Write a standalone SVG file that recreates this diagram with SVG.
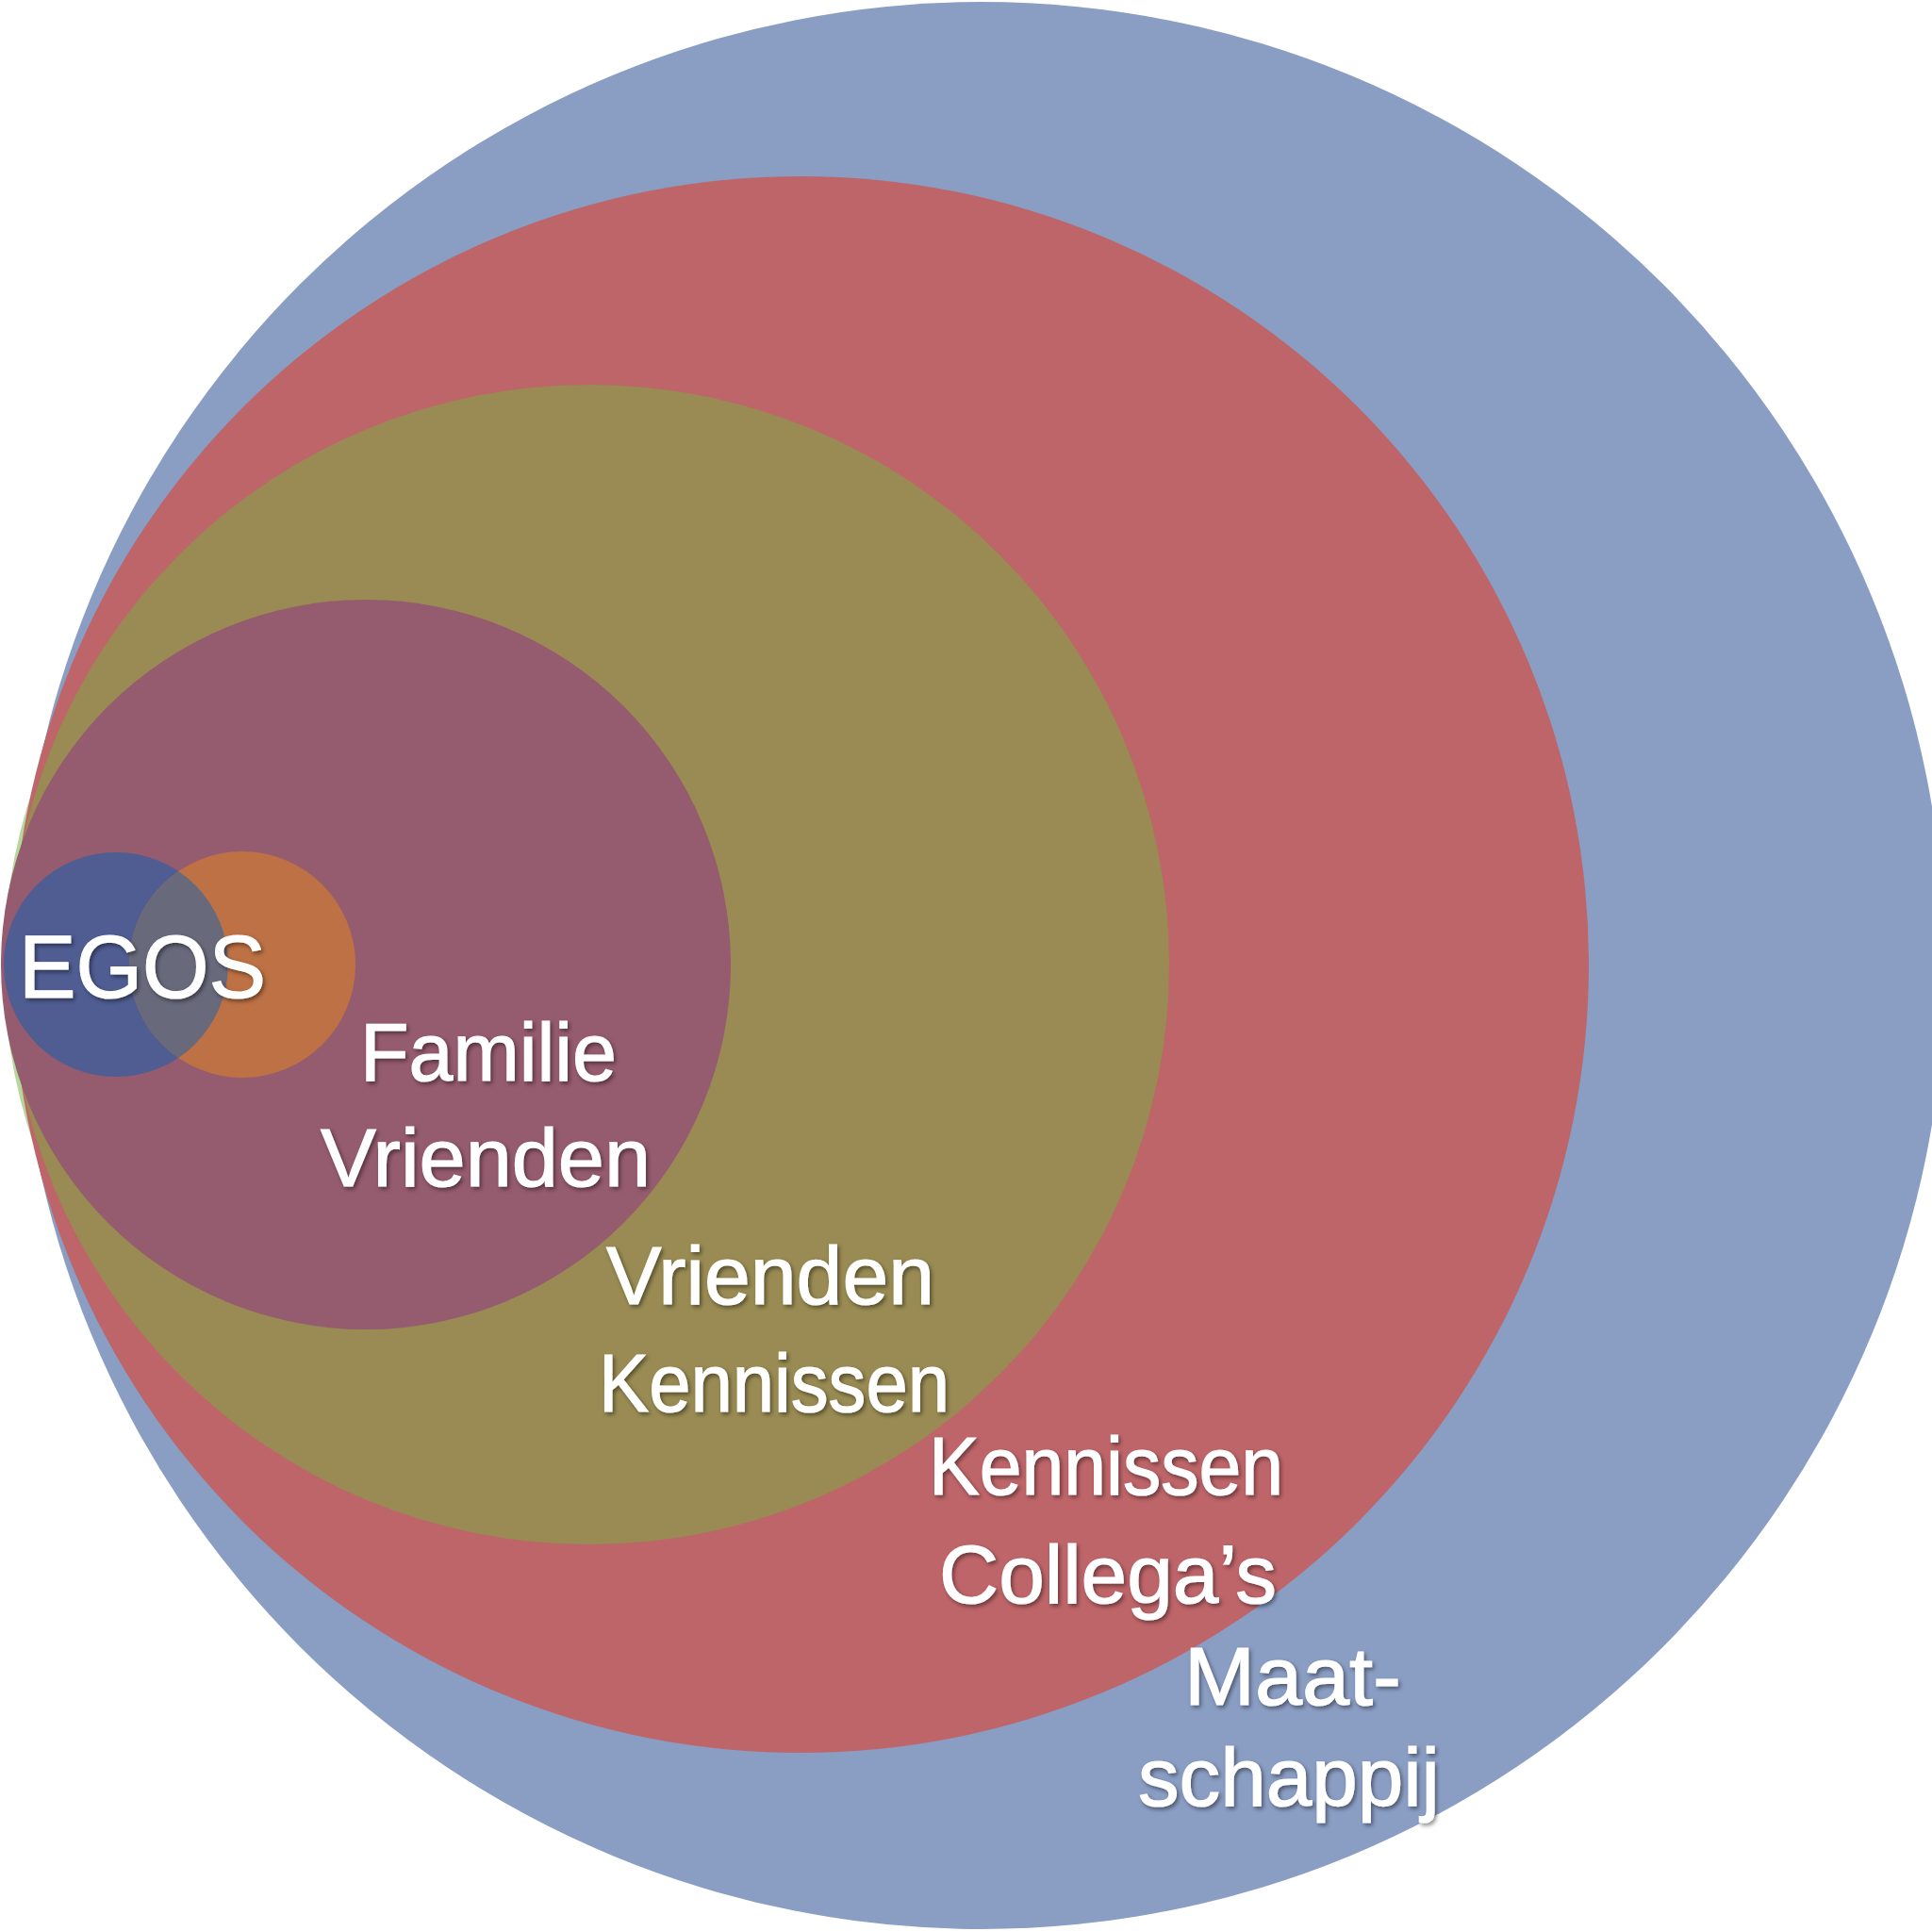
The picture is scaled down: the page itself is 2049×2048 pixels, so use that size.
<svg xmlns="http://www.w3.org/2000/svg" width="2049" height="2048" viewBox="0 0 2049 2048">
  <style>
    .lbl { font-family: "Liberation Sans", Arial, sans-serif; font-size: 88px; fill: #ffffff; stroke: #ffffff; stroke-width: 1.2px; filter: url(#shadow); }
  </style>
  <defs>
    <filter id="shadow" x="-10%" y="-30%" width="130%" height="160%">
      <feDropShadow dx="2" dy="2.5" stdDeviation="2" flood-color="#000000" flood-opacity="0.45"/>
    </filter>
    <clipPath id="egoBlueClip">
      <circle cx="123" cy="1023" r="119"/>
    </clipPath>
  </defs>
  <rect width="2049" height="2048" fill="#ffffff"/>

  <g id="maatschappij">
    <circle cx="1041" cy="1024" r="1022" fill="#8A9DC3"/>
  </g>
  <g id="green-ring">
    <circle cx="590" cy="1024" r="586" fill="#B6D89C"/>
  </g>
  <g id="kennissen-collegas">
    <circle cx="849" cy="1023" r="836" fill="#BE6569"/>
  </g>
  <g id="vrienden-kennissen">
    <circle cx="625" cy="1023" r="615" fill="#998B53"/>
  </g>
  <g id="familie-vrienden">
    <circle cx="388" cy="1023" r="387" fill="#955B6E"/>
  </g>
  <g id="egos">
    <circle cx="123" cy="1023" r="119" fill="#4F5D92"/>
    <circle cx="257" cy="1023" r="120" fill="#BD7144"/>
    <circle cx="257" cy="1023" r="120" fill="#686A7C" clip-path="url(#egoBlueClip)"/>
  </g>

  <g id="connectors"></g>

  <g id="labels">
    <text class="lbl" x="20" y="1058" style="font-size:94px" textLength="262" lengthAdjust="spacingAndGlyphs">EGOS</text>
    <text class="lbl" x="382" y="1146" textLength="272" lengthAdjust="spacingAndGlyphs">Familie</text>
    <text class="lbl" x="340" y="1258" textLength="350" lengthAdjust="spacingAndGlyphs">Vrienden</text>
    <text class="lbl" x="643" y="1383" textLength="348" lengthAdjust="spacingAndGlyphs">Vrienden</text>
    <text class="lbl" x="635" y="1497" textLength="372" lengthAdjust="spacingAndGlyphs">Kennissen</text>
    <text class="lbl" x="985" y="1585" textLength="376" lengthAdjust="spacingAndGlyphs">Kennissen</text>
    <text class="lbl" x="996" y="1700" textLength="358" lengthAdjust="spacingAndGlyphs">Collega’s</text>
    <text class="lbl" x="1256" y="1808" textLength="230" lengthAdjust="spacingAndGlyphs">Maat-</text>
    <text class="lbl" x="1207" y="1915" textLength="320" lengthAdjust="spacingAndGlyphs">schappij</text>
  </g>
</svg>
